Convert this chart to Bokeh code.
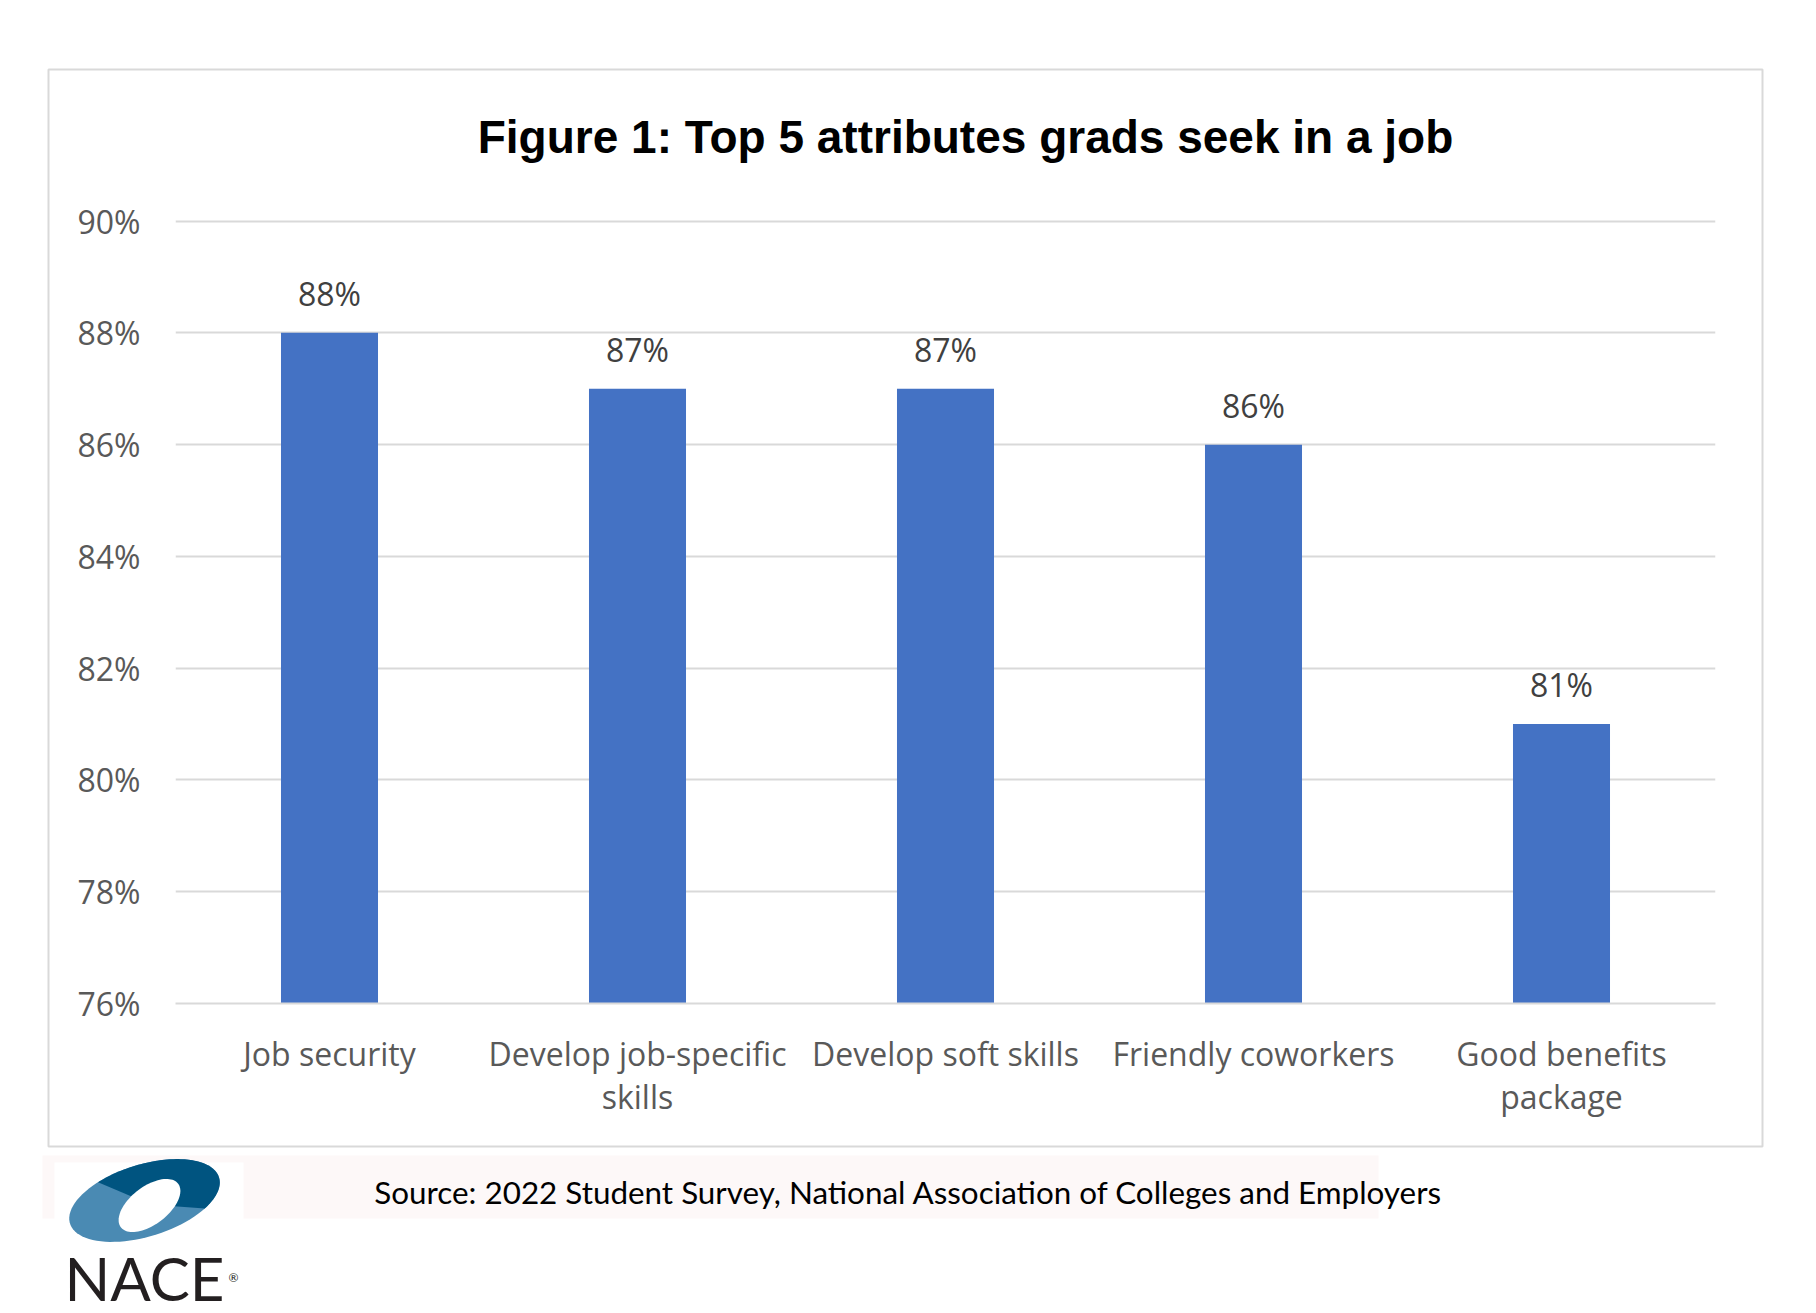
import numpy as np
from bokeh.plotting import figure
from bokeh.models import (ColumnDataSource, Range1d, FixedTicker,
                          PrintfTickFormatter, LabelSet)
from bokeh.core.properties import value
from bokeh.embed import file_html
from bokeh.resources import INLINE

# ---- data ----
categories = ["Job security", "Develop job-specific\nskills", "Develop soft skills",
              "Friendly coworkers", "Good benefits\npackage"]
values = [88, 87, 87, 86, 81]
value_labels = ["88%", "87%", "87%", "86%", "81%"]
y_ticks = [76, 78, 80, 82, 84, 86, 88, 90]
title_text = "Figure 1: Top 5 attributes grads seek in a job"
source_text = "Source: 2022 Student Survey, National Association of Colleges and Employers"

W, H = 1800, 1310
FL, FR, FT, FB = 175, 1715, 215, 1003   # frame edges in page pixels

xpos = list(range(len(categories)))
src = ColumnDataSource(dict(x=xpos, val=values, lab=value_labels))

p = figure(width=W, height=H, output_backend="svg", toolbar_location=None,
           x_range=Range1d(-0.5, len(categories) - 0.5), y_range=Range1d(76, 90.1),
           min_border_left=FL, min_border_right=W - FR, min_border_top=FT,
           min_border_bottom=H - FB)
p.outline_line_color = None
p.background_fill_color = "white"
p.border_fill_color = "white"

# pixel-space ranges for page decorations
p.extra_x_ranges = {"px": Range1d(FL, FR)}
p.extra_y_ranges = {"px": Range1d(FB, FT)}

p.vbar(x="x", top="val", bottom=76, width=0.315, source=src,
       fill_color="#4472C4", line_color=None)

# axes
p.yaxis.ticker = FixedTicker(ticks=y_ticks)
p.yaxis.formatter = PrintfTickFormatter(format="%d%%")
p.yaxis.axis_line_color = None
p.yaxis.major_tick_line_color = None
p.yaxis.minor_tick_line_color = None
p.yaxis.major_tick_out = 0
p.yaxis.major_tick_in = 0
p.yaxis.major_label_standoff = 35
p.yaxis.major_label_text_font = "Open Sans"
p.yaxis.major_label_text_font_size = "32px"
p.yaxis.major_label_text_color = "#595959"

p.xaxis.ticker = FixedTicker(ticks=xpos)
p.xaxis.major_label_overrides = {i: c for i, c in zip(xpos, categories)}
p.xaxis.axis_line_color = "#d9d9d9"
p.xaxis.axis_line_width = 2
p.xaxis.major_tick_line_color = None
p.xaxis.minor_tick_line_color = None
p.xaxis.major_tick_out = 0
p.xaxis.major_tick_in = 0
p.xaxis.major_label_standoff = 28
p.xaxis.major_label_text_font = "Open Sans"
p.xaxis.major_label_text_font_size = "32px"
p.xaxis.major_label_text_color = "#595959"
p.xaxis.major_label_text_line_height = 1.0

p.xgrid.grid_line_color = None
p.ygrid.grid_line_color = "#d9d9d9"
p.ygrid.grid_line_width = 2

# value labels
p.add_layout(LabelSet(x="x", y="val", text="lab", source=src, y_offset=27,
                      text_align="center", text_baseline="alphabetic",
                      text_font=value("Open Sans"), text_font_size="32px",
                      text_color="#404040"))

deco = dict(x_range_name="px", y_range_name="px", level="overlay")

# chart border
p.quad(left=[48], right=[1762], top=[69], bottom=[1146], fill_alpha=0,
       line_color="#d9d9d9", line_width=2, **deco)
# faint source band with white logo box
p.quad(left=[42], right=[1378], top=[1155], bottom=[1218], fill_color="#fdf8f8",
       line_color=None, **deco)
p.quad(left=[54], right=[243], top=[1162], bottom=[1220], fill_color="white",
       line_color=None, **deco)

# title and source
p.text(x=[965], y=[136], text=[title_text], text_align="center",
       text_baseline="alphabetic", text_font=value("Liberation Sans"),
       text_font_style="bold", text_font_size="46px", text_color="black", **deco)
p.text(x=[908], y=[1191], text=[source_text], text_align="center",
       text_baseline="alphabetic", text_font=value("Lato"),
       text_font_size="31.4px", text_color="black", **deco)

# NACE logo (decoration)
def ell(cx, cy, rx, ry, a, t0=0.0, t1=2 * np.pi, n=90):
    t = np.linspace(t0, t1, n)
    xs = cx + rx * np.cos(t) * np.cos(a) - ry * np.sin(t) * np.sin(a)
    ys = cy + rx * np.cos(t) * np.sin(a) + ry * np.sin(t) * np.cos(a)
    return list(xs), list(ys)

ox, oy = ell(144, 1200, 78, 36, -0.3)
p.patch(ox, oy, fill_color="#4a8ab3", line_color=None, **deco)
dx, dy = ell(144, 1200, 78, 36, -0.3, np.radians(240), np.radians(405))
p.patch(dx + [150], dy + [1204], fill_color="#005480", line_color=None, **deco)
ix, iy = ell(149, 1205, 36, 19, -0.65)
p.patch(ix, iy, fill_color="white", line_color=None, **deco)

p.text(x=[144], y=[1277], text=["NACE"], text_align="center",
       text_baseline="alphabetic", text_font=value("Lato"),
       text_font_size="60px", text_color="#231f20", **deco)
p.text(x=[233], y=[1277], text=["®"], text_align="center",
       text_baseline="alphabetic", text_font=value("Lato"),
       text_font_size="12px", text_color="#231f20", **deco)

open("out.html", "w").write(file_html(p, INLINE))
